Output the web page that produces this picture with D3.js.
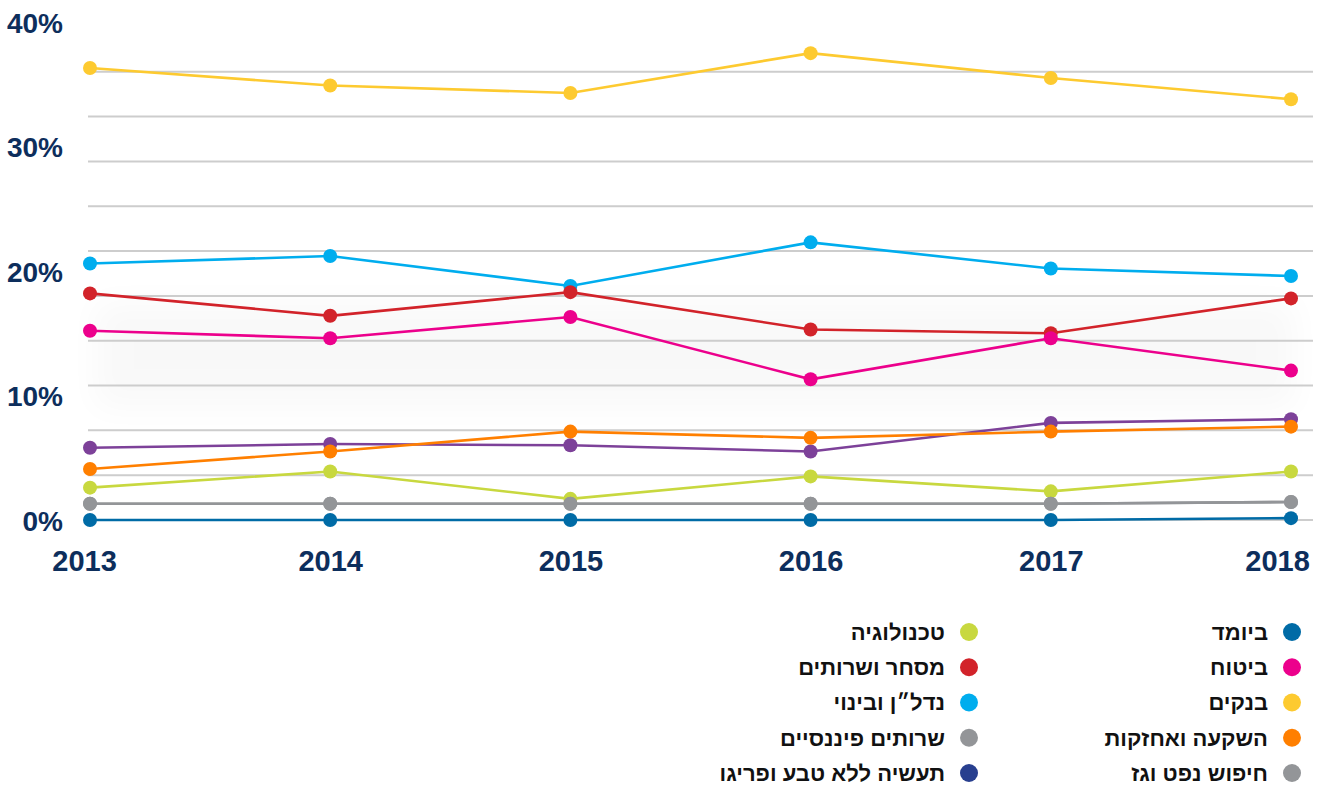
<!DOCTYPE html>
<html>
<head>
<meta charset="utf-8">
<script src="https://cdn.jsdelivr.net/npm/d3@7"></script>
<style>
  html, body { margin: 0; padding: 0; background: #fff; }
  svg { display: block; }
</style>
</head>
<body>
<svg id="chart" width="1322" height="790"></svg>
<script>
// ---------- DATA ----------
const years = ["2013", "2014", "2015", "2016", "2017", "2018"];
const yTickValues = [0, 10, 20, 30, 40];
const gridValues = [0, 3.6, 7.2, 10.8, 14.4, 18, 21.6, 25.2, 28.8, 32.4, 36];

const banks        = [36.3, 34.9, 34.3, 37.5, 35.5, 33.8];
const realEstate   = [20.6, 21.2, 18.8, 22.3, 20.2, 19.6];
const trade        = [18.2, 16.4, 18.3, 15.3, 15.0, 17.8];
const insurance    = [15.2, 14.6, 16.3, 11.3, 14.6, 12.0];
const investment   = [4.1, 5.5, 7.1, 6.6, 7.1, 7.5];
const industry     = [5.8, 6.1, 6.0, 5.5, 7.8, 8.1];
const technology   = [2.6, 3.9, 1.7, 3.5, 2.3, 3.9];
const finServices  = [1.3, 1.3, 1.3, 1.3, 1.3, 1.45];
const oilGas       = [1.3, 1.3, 1.3, 1.3, 1.3, 1.45];
const biomed       = [0.0, 0.0, 0.0, 0.0, 0.0, 0.15];

// series: drawing order (bottom to top)
const series = [
  { name: "בנקים", values: banks, color: "#fdca30" },
  { name: "נדל״ן ובינוי", values: realEstate, color: "#00adee" },
  { name: "מסחר ושרותים", values: trade, color: "#d2232a" },
  { name: "ביטוח", values: insurance, color: "#ec008c" },
  { name: "תעשיה ללא טבע ופריגו", values: industry, color: "#7d4199" },
  { name: "השקעה ואחזקות", values: investment, color: "#ff7f00" },
  { name: "טכנולוגיה", values: technology, color: "#c8d83f" },
  { name: "שרותים פיננסיים", values: finServices, color: "#939598" },
  { name: "חיפוש נפט וגז", values: oilGas, color: "#939598" },
  { name: "ביומד", values: biomed, color: "#006ba6" }
];

// legend columns (right column first, RTL)
const legendRight = ["ביומד", "ביטוח", "בנקים", "השקעה ואחזקות", "חיפוש נפט וגז"];
const legendLeft  = ["טכנולוגיה", "מסחר ושרותים", "נדל״ן ובינוי", "שרותים פיננסיים", "תעשיה ללא טבע ופריגו"];
const legendColors = {
  "ביומד": "#006ba6", "ביטוח": "#ec008c", "בנקים": "#fdca30",
  "השקעה ואחזקות": "#ff7f00", "חיפוש נפט וגז": "#939598",
  "טכנולוגיה": "#c8d83f", "מסחר ושרותים": "#d2232a", "נדל״ן ובינוי": "#00adee",
  "שרותים פיננסיים": "#939598", "תעשיה ללא טבע ופריגו": "#283f8f"
};

// ---------- LAYOUT ----------
const svg = d3.select("#chart");
const navy = "#0d2e5c";

const x = d3.scalePoint().domain(years).range([90, 1291]);
const y = d3.scaleLinear().domain([0, 40]).range([520, 22]);

// very soft shadow band
const defs = svg.append("defs");
const blur = defs.append("filter").attr("id", "blur")
  .attr("x", "-10%").attr("y", "-80%").attr("width", "120%").attr("height", "260%");
blur.append("feGaussianBlur").attr("stdDeviation", 16);
svg.append("rect")
  .attr("x", 95).attr("width", 1200)
  .attr("y", y(17.5)).attr("height", y(9) - y(17.5))
  .attr("fill", "#000").attr("opacity", 0.022)
  .attr("filter", "url(#blur)");

// gridlines
svg.append("g").selectAll("line").data(gridValues).join("line")
  .attr("x1", 88).attr("x2", 1313)
  .attr("y1", d => y(d)).attr("y2", d => y(d))
  .attr("stroke", "#cdcdcd").attr("stroke-width", 2);

// y axis labels
const yAxis = d3.axisLeft(y).tickValues(yTickValues).tickFormat(d => d + "%").tickSize(0).tickPadding(0);
const gy = svg.append("g").attr("transform", "translate(63,0)").call(yAxis);
gy.select(".domain").remove();
gy.selectAll("text")
  .attr("fill", navy)
  .attr("font-family", "'Liberation Sans', Arial, sans-serif")
  .attr("font-weight", "bold")
  .attr("font-size", 28)
  .attr("dy", "0.36em");

// x axis labels
const xAxis = d3.axisBottom(x).tickSize(0).tickPadding(0);
const gx = svg.append("g").attr("transform", "translate(0,561)").call(xAxis);
gx.select(".domain").remove();
gx.selectAll("text")
  .attr("fill", navy)
  .attr("font-family", "'Liberation Sans', Arial, sans-serif")
  .attr("font-weight", "bold")
  .attr("font-size", 29)
  .attr("dy", "0.36em")
  .attr("dx", (d, i) => i === 0 ? -6 : (i === years.length - 1 ? -14 : 0));

// lines and dots
const line = d3.line().x((d, i) => x(years[i])).y(d => y(d));
const sg = svg.append("g").selectAll("g").data(series).join("g");
sg.append("path")
  .attr("d", d => line(d.values))
  .attr("fill", "none")
  .attr("stroke", d => d.color)
  .attr("stroke-width", 2.6);
sg.selectAll("circle").data(d => d.values.map((v, i) => ({ v, i, c: d.color }))).join("circle")
  .attr("cx", d => x(years[d.i]))
  .attr("cy", d => y(d.v))
  .attr("r", 7)
  .attr("fill", d => d.c);

// legend
const rowY = d3.scalePoint().domain(d3.range(5)).range([632, 773]);
function drawLegend(items, dotX) {
  const g = svg.append("g");
  const it = g.selectAll("g").data(items).join("g")
    .attr("transform", (d, i) => `translate(${dotX},${rowY(i)})`);
  it.append("circle").attr("r", 9).attr("fill", d => legendColors[d]);
  it.append("text")
    .attr("x", -24)
    .attr("dy", "0.36em")
    .attr("text-anchor", "start")
    .attr("direction", "rtl")
    .attr("font-family", "'Liberation Sans', Arial, sans-serif")
    .attr("font-weight", "bold")
    .attr("font-size", 22)
    .attr("fill", "#111")
    .text(d => d);
}
drawLegend(legendRight, 1292);
drawLegend(legendLeft, 969);
</script>
</body>
</html>
